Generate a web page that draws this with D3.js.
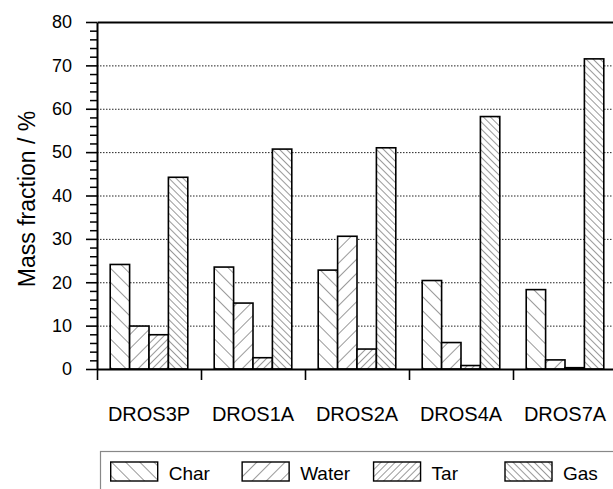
<!DOCTYPE html>
<html>
<head>
<meta charset="utf-8">
<script src="https://cdn.jsdelivr.net/npm/d3@7"></script>
<style>
  html, body { margin: 0; padding: 0; background: #fff; }
  svg { display: block; font-family: Arial, "Liberation Sans", sans-serif; }
</style>
</head>
<body>
<svg id="chart" width="613" height="489"></svg>
<script>
const categories = ["DROS3P", "DROS1A", "DROS2A", "DROS4A", "DROS7A"];
const seriesNames = ["Char", "Water", "Tar", "Gas"];
const charValues  = [24.1, 23.5, 22.8, 20.4, 18.3];
const waterValues = [9.9, 15.2, 30.6, 6.1, 2.1];
const tarValues   = [7.9, 2.6, 4.6, 0.8, 0.3];
const gasValues   = [44.2, 50.7, 51.0, 58.2, 71.5];
const yMajorTicks = [0, 10, 20, 30, 40, 50, 60, 70, 80];
const yGridTicks  = [10, 20, 30, 40, 50, 60, 70];
const yLabel = "Mass fraction / %";

const seriesValues = [charValues, waterValues, tarValues, gasValues];

const svg = d3.select("#chart");
const mLeft = 97, mRight = 617, mTop = 22, mBottom = 369;

const x0 = d3.scaleBand().domain(categories).range([mLeft, mRight])
  .paddingInner(0.254).paddingOuter(0.127);
const x1 = d3.scaleBand().domain(seriesNames).range([0, x0.bandwidth()]).padding(0);
const xBound = d3.scaleLinear().domain([0, categories.length]).range([mLeft, mRight]);
const y = d3.scaleLinear().domain([0, 80]).range([mBottom, mTop]);

// patterns
const defs = svg.append("defs");
const patternSpec = [
  { id: "p-char",  spacing: 10, angle: -45 },
  { id: "p-water", spacing: 10, angle: 45 },
  { id: "p-tar",   spacing: 5,  angle: 45 },
  { id: "p-gas",   spacing: 5,  angle: -45 }
];
patternSpec.forEach(p => {
  const pat = defs.append("pattern")
    .attr("id", p.id)
    .attr("patternUnits", "userSpaceOnUse")
    .attr("width", p.spacing).attr("height", p.spacing)
    .attr("patternTransform", `rotate(${p.angle})`);
  pat.append("rect").attr("width", p.spacing).attr("height", p.spacing).attr("fill", "#fff");
  pat.append("line").attr("x1", 0.5).attr("y1", 0).attr("x2", 0.5).attr("y2", p.spacing)
    .attr("stroke", "#9a9a9a").attr("stroke-width", 1);
});
const fillFor = name => "url(#p-" + name.toLowerCase() + ")";

// gridlines
svg.append("g")
  .attr("transform", `translate(${mLeft},0)`)
  .call(d3.axisLeft(y).tickValues(yGridTicks).tickSize(-(mRight - mLeft)).tickFormat(""))
  .call(g => g.select(".domain").remove())
  .call(g => g.selectAll("line").attr("stroke", "#222").attr("stroke-width", 1)
    .attr("stroke-dasharray", "1.5,1.5"));

// bars
const groups = svg.append("g").selectAll("g")
  .data(categories)
  .join("g")
  .attr("transform", d => `translate(${x0(d)},0)`);

groups.selectAll("rect")
  .data((c, i) => seriesNames.map((s, j) => ({ s, v: seriesValues[j][i] })))
  .join("rect")
  .attr("x", d => x1(d.s))
  .attr("width", x1.bandwidth())
  .attr("y", d => y(d.v))
  .attr("height", d => y(0) - y(d.v))
  .attr("fill", d => fillFor(d.s))
  .attr("stroke", "#000")
  .attr("stroke-width", 1.6);

// y axis minor ticks
const minorTicks = d3.range(0, 81, 2).filter(v => v % 10 !== 0);
svg.append("g")
  .attr("transform", `translate(${mLeft},0)`)
  .call(d3.axisLeft(y).tickValues(minorTicks).tickSize(7).tickFormat("").tickSizeOuter(0))
  .call(g => g.select(".domain").remove())
  .call(g => g.selectAll("line").attr("stroke", "#000").attr("stroke-width", 1.5));

// y axis major
svg.append("g")
  .attr("transform", `translate(${mLeft},0)`)
  .call(d3.axisLeft(y).tickValues(yMajorTicks).tickSize(11).tickPadding(14).tickSizeOuter(0))
  .call(g => g.select(".domain").attr("stroke", "#000").attr("stroke-width", 2))
  .call(g => g.selectAll(".tick line").attr("stroke", "#000").attr("stroke-width", 1.6))
  .call(g => g.selectAll("text").attr("font-size", 18).attr("fill", "#000")
    .attr("font-family", "Arial, 'Liberation Sans', sans-serif"));

// top frame
svg.append("g")
  .attr("transform", `translate(0,${mTop})`)
  .call(d3.axisTop(xBound).tickValues([]).tickSizeOuter(0))
  .call(g => g.select(".domain").attr("stroke", "#000").attr("stroke-width", 2));

// x axis boundary ticks
svg.append("g")
  .attr("transform", `translate(0,${mBottom})`)
  .call(d3.axisBottom(xBound).tickValues(d3.range(0, categories.length + 1)).tickSize(11).tickFormat("").tickSizeOuter(0))
  .call(g => g.select(".domain").attr("stroke", "#000").attr("stroke-width", 2))
  .call(g => g.selectAll(".tick line").attr("stroke", "#000").attr("stroke-width", 1.6));

// x category labels
svg.append("g")
  .attr("transform", `translate(0,${mBottom})`)
  .call(d3.axisBottom(x0).tickSize(0).tickPadding(37.5))
  .call(g => g.select(".domain").remove())
  .call(g => g.selectAll("text").attr("font-size", 20).attr("fill", "#000")
    .attr("font-family", "Arial, 'Liberation Sans', sans-serif"));

// y label
svg.append("text")
  .attr("transform", `translate(35,199) rotate(-90)`)
  .attr("text-anchor", "middle")
  .attr("font-size", 23)
  .attr("fill", "#000")
  .text(yLabel);

// legend
const legend = svg.append("g");
legend.append("rect")
  .attr("x", 100.5).attr("y", 451.5).attr("width", 600).attr("height", 100)
  .attr("fill", "none").attr("stroke", "#888").attr("stroke-width", 1.2);
const legendX = d3.scalePoint().domain(seriesNames).range([110.7, 505]);
const item = legend.selectAll("g.item").data(seriesNames).join("g")
  .attr("class", "item")
  .attr("transform", d => `translate(${legendX(d)},462)`);
item.append("rect")
  .attr("width", 47).attr("height", 19)
  .attr("fill", d => fillFor(d))
  .attr("stroke", "#000").attr("stroke-width", 1.4);
item.append("text")
  .attr("x", 58).attr("y", 18)
  .attr("font-size", 19).attr("fill", "#000")
  .text(d => d);
</script>
</body>
</html>
